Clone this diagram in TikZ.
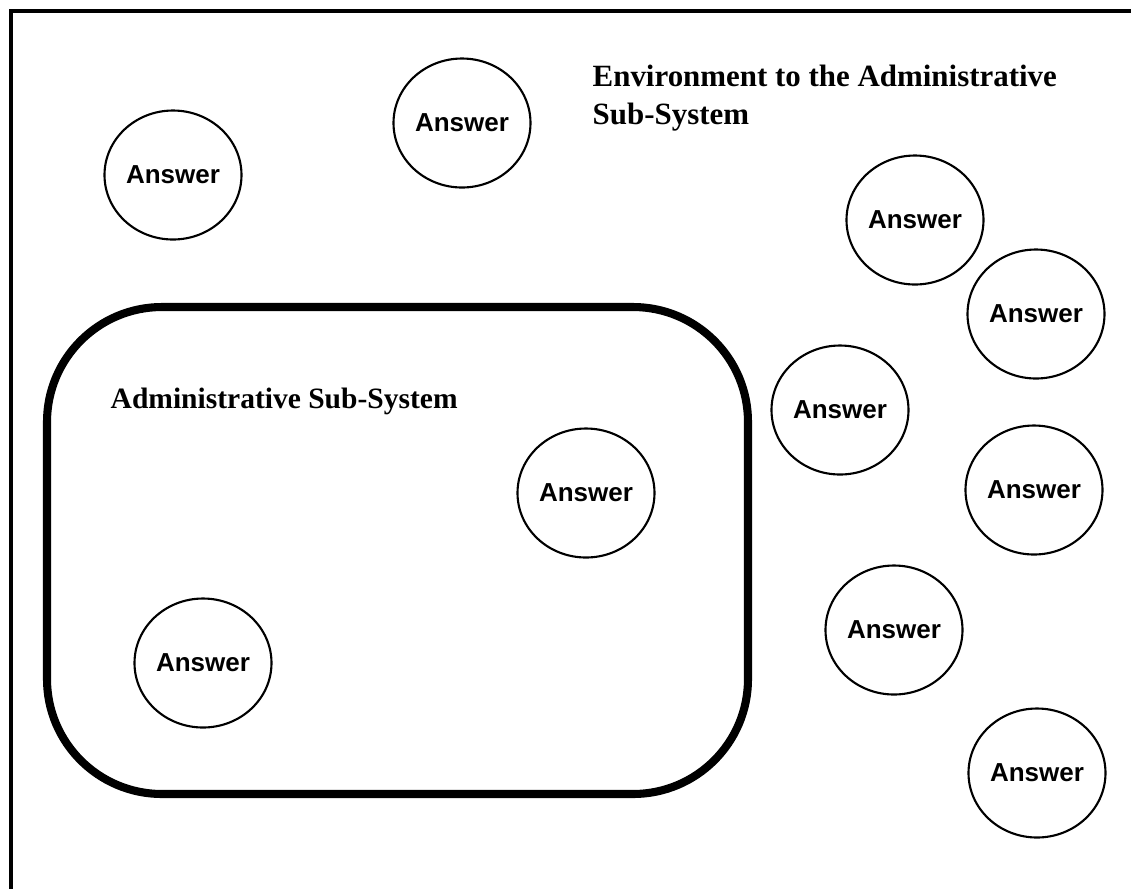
\documentclass[tikz,border=0pt]{standalone}
\usepackage{fontspec}
\setmainfont{Liberation Serif}
\setsansfont{Liberation Sans}
\usetikzlibrary{shapes.geometric}

\tikzset{
    answer/.style={draw, ellipse, line width=0.6pt, minimum width=1.37cm, minimum height=1.29cm,
        inner sep=0pt, font=\sffamily\bfseries\fontsize{7.4}{8}\selectfont},
    heading/.style={inner sep=0pt, align=left, font=\bfseries\fontsize{8.8}{10.8}\selectfont}
}

\begin{document}
\begin{tikzpicture}
                \useasboundingbox (0, 0) rectangle (11.31, -8.88);
                \draw [line width=1pt] (0.11, -8.905) rectangle (11.50, -0.11);
                \node (envlabel) [heading, anchor=base west] at (5.92, -1.24) {Environment to the Administrative\\Sub-System};
                \node (env1) [answer] at (1.73, -1.75) {Answer};
                \node (env2) [answer] at (4.62, -1.23) {Answer};
                \node (env3) [answer] at (9.15, -2.20) {Answer};
                \node (env4) [answer] at (10.36, -3.14) {Answer};
                \node (env5) [answer] at (8.40, -4.10) {Answer};
                \node (env6) [answer] at (10.34, -4.90) {Answer};
                \node (env7) [answer] at (8.94, -6.30) {Answer};
                \node (env8) [answer] at (10.37, -7.73) {Answer};
                \node (adminbox) [draw, line width=2.3pt, rounded corners=1.15cm, minimum width=7.01cm, minimum height=4.87cm] at (3.975, -5.505) {};
                \node (adminlabel) [heading, font=\bfseries\fontsize{8.4}{10}\selectfont, anchor=base west] at (1.10, -4.08) {Administrative Sub-System};
                \node (admin1) [answer] at (5.86, -4.93) {Answer};
                \node (admin2) [answer] at (2.03, -6.63) {Answer};
            \end{tikzpicture}
\end{document}
